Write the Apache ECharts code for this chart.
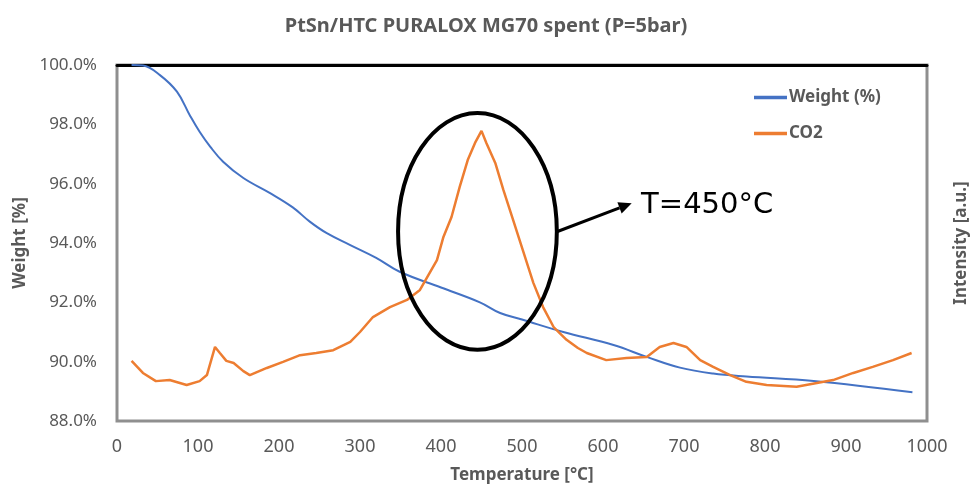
<!DOCTYPE html>
<html>
<head>
<meta charset="utf-8">
<script src="https://cdn.jsdelivr.net/npm/echarts@6/dist/echarts.min.js"></script>
<style>html,body{margin:0;padding:0;background:#fff}#c{width:972px;height:486px}</style>
</head>
<body>
<div id="c"></div>
<script>
// Temperature [°C] and Weight [%]
const weightT = [18,32,53,74,90,102,115,131,156,189,217,238,259,288,320,349,400,448,473,500,551,613,654,695,736,777,860,982];
const weightV = [100,99.98,99.66,99.1,98.3,97.75,97.25,96.74,96.19,95.68,95.2,94.72,94.33,93.93,93.5,93.03,92.5,92.0,91.64,91.42,91.0,90.56,90.16,89.8,89.6,89.5,89.35,88.97];
// CO2 intensity (a.u., 0-100 scale of the right axis)
const co2T = [18,32,48,65,86,102,111,121,127,135,144,156,164,185,205,226,246,267,288,300,316,337,358,374,386,395,403,413,423,433,442,450,456,467,477,489,501,514,526,539,555,569,580,604,629,654,670,687,703,720,736,757,777,802,839,864,884,909,933,958,981];
const co2V = [16.9,13.5,11.2,11.5,10.1,11.2,12.9,20.8,19.1,16.9,16.3,14.0,12.9,14.9,16.6,18.5,19.1,19.9,22.2,25.0,29.2,32.0,34.0,36.8,41.6,45.2,51.7,57.3,65.7,73.3,78.1,81.5,78.1,72.5,64.9,56.5,48.0,38.8,32.0,26.4,22.8,20.5,19.1,17.1,17.7,18.0,20.8,21.9,20.8,17.1,15.2,12.9,11.0,10.1,9.6,10.7,11.5,13.5,15.2,17.1,19.1];
const titleText = 'PtSn/HTC PURALOX MG70 spent (P=5bar)';
const annotationText = 'T=450°C';

const chart = echarts.init(document.getElementById('c'));
const gray = '#595959';
const font = 'Noto Sans';
chart.setOption({
  animation: false,
  backgroundColor: '#fff',
  title: {text: titleText, left: 'center', top: 11,
    textStyle: {fontFamily: font, fontSize: 20, fontWeight: 'bold', color: gray}},
  legend: {orient: 'vertical', left: 749, top: 84, itemWidth: 33, itemHeight: 12, itemGap: 19,
    icon: 'path://M0,0 L10,0 L10,1 L0,1 Z',
    textStyle: {fontFamily: font, fontSize: 17, fontWeight: 'bold', color: gray, padding: [0,0,0,-3]},
    data: ['Weight (%)', 'CO2']},
  grid: {left: 117, right: 45, top: 65, bottom: 65, show: true, borderColor: '#8f8f8f', borderWidth: 3,
    outerBoundsMode: 'none', containLabel: false},
  xAxis: [{type: 'value', min: 0, max: 1000, interval: 100,
    name: 'Temperature [°C]', nameLocation: 'middle', nameGap: 46,
    nameTextStyle: {fontFamily: font, fontSize: 17, fontWeight: 'bold', color: gray},
    axisLine: {show: false}, axisTick: {show: false}, splitLine: {show: false},
    axisLabel: {fontFamily: font, fontSize: 18, color: gray, margin: 17, formatter: v => String(v)}},
    {type: 'value', position: 'top', min: 0, max: 1000, axisLine: {show: true, lineStyle: {color: '#000', width: 3}},
     axisTick: {show: false}, axisLabel: {show: false}, splitLine: {show: false}}],
  yAxis: [{type: 'value', min: 88, max: 100, interval: 2,
    name: 'Weight [%]', nameLocation: 'middle', nameGap: 86, nameRotate: 90,
    nameTextStyle: {fontFamily: font, fontSize: 17, fontWeight: 'bold', color: gray},
    axisLine: {show: false}, axisTick: {show: false}, splitLine: {show: false},
    axisLabel: {fontFamily: font, fontSize: 17, color: gray, margin: 20,
      formatter: v => v.toFixed(1) + '%'}},
    {type: 'value', min: 0, max: 100,
    name: 'Intensity [a.u.]', nameLocation: 'middle', nameGap: 26, nameRotate: 90,
    nameTextStyle: {fontFamily: font, fontSize: 17, fontWeight: 'bold', color: gray},
    axisLine: {show: false}, axisTick: {show: false}, splitLine: {show: false}, axisLabel: {show: false}}],
  series: [
    {name: 'Weight (%)', type: 'line', yAxisIndex: 0, smooth: 0.4, showSymbol: false,
     color: '#4472C4', lineStyle: {width: 2, color: '#4472C4'},
     data: weightT.map((t, i) => [t, weightV[i]])},
    {name: 'CO2', type: 'line', yAxisIndex: 1, showSymbol: false,
     color: '#ED7D31', lineStyle: {width: 2.5, color: '#ED7D31'},
     data: co2T.map((t, i) => [t, co2V[i]])}
  ]
});

function px(t, w) { return chart.convertToPixel({xAxisIndex: 0, yAxisIndex: 0}, [t, w]); }
const ctr = px(445, 94.39), ex = px(543, 94.39), ey = px(445, 98.38);
const a0 = px(543, 94.38), a1 = px(635.4, 95.34), tp = px(652, 95.25);
const dx = a1[0] - a0[0], dy = a1[1] - a0[1], L = Math.hypot(dx, dy), ux = dx / L, uy = dy / L;
const hl = 13, hw = 6;
const base = [a1[0] - ux * hl, a1[1] - uy * hl];
chart.setOption({graphic: [
  {type: 'ellipse', shape: {cx: ctr[0], cy: ctr[1], rx: ex[0] - ctr[0], ry: ctr[1] - ey[1]},
   style: {fill: 'none', stroke: '#000', lineWidth: 4}, z: 100},
  {type: 'line', shape: {x1: a0[0], y1: a0[1], x2: base[0], y2: base[1]},
   style: {stroke: '#000', lineWidth: 3}, z: 100},
  {type: 'polygon', shape: {points: [a1, [base[0] - uy * hw, base[1] + ux * hw], [base[0] + uy * hw, base[1] - ux * hw]]},
   style: {fill: '#000'}, z: 100},
  {type: 'text', x: tp[0] - 4, y: tp[1], style: {text: annotationText, fontFamily: 'DejaVu Sans', fontSize: 29,
   fill: '#000', verticalAlign: 'middle', align: 'left'}, z: 100}
]});
</script>
</body>
</html>
